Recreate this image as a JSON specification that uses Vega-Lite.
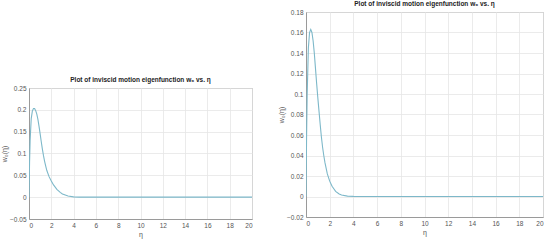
{
  "$schema": "https://vega.github.io/schema/vega-lite/v6.json",
  "background": "white",
  "padding": {"left": 0, "top": 0, "right": 5, "bottom": 2},
  "datasets": {
    "left": [
      {"eta": 0, "w": 0}, {"eta": 0.05, "w": 0.08}, {"eta": 0.1, "w": 0.13}, {"eta": 0.2, "w": 0.18},
      {"eta": 0.3, "w": 0.197}, {"eta": 0.4, "w": 0.203}, {"eta": 0.5, "w": 0.203}, {"eta": 0.6, "w": 0.198},
      {"eta": 0.7, "w": 0.19}, {"eta": 0.8, "w": 0.178}, {"eta": 0.9, "w": 0.162}, {"eta": 1.0, "w": 0.145},
      {"eta": 1.1, "w": 0.127}, {"eta": 1.2, "w": 0.11}, {"eta": 1.3, "w": 0.095}, {"eta": 1.4, "w": 0.082},
      {"eta": 1.5, "w": 0.071}, {"eta": 1.6, "w": 0.061}, {"eta": 1.8, "w": 0.047}, {"eta": 2.0, "w": 0.037},
      {"eta": 2.2, "w": 0.028}, {"eta": 2.5, "w": 0.018}, {"eta": 2.8, "w": 0.011}, {"eta": 3.0, "w": 0.0075},
      {"eta": 3.5, "w": 0.0025}, {"eta": 4.0, "w": 0.0007}, {"eta": 4.5, "w": 0.0002}, {"eta": 5, "w": 0},
      {"eta": 20, "w": 0}
    ],
    "right": [
      {"eta": 0, "w": 0}, {"eta": 0.05, "w": 0.06}, {"eta": 0.1, "w": 0.1}, {"eta": 0.2, "w": 0.145},
      {"eta": 0.3, "w": 0.16}, {"eta": 0.4, "w": 0.163}, {"eta": 0.5, "w": 0.16}, {"eta": 0.6, "w": 0.152},
      {"eta": 0.7, "w": 0.14}, {"eta": 0.8, "w": 0.125}, {"eta": 0.9, "w": 0.11}, {"eta": 1.0, "w": 0.096},
      {"eta": 1.1, "w": 0.083}, {"eta": 1.2, "w": 0.07}, {"eta": 1.3, "w": 0.058}, {"eta": 1.4, "w": 0.048},
      {"eta": 1.5, "w": 0.04}, {"eta": 1.6, "w": 0.033}, {"eta": 1.8, "w": 0.022}, {"eta": 2.0, "w": 0.015},
      {"eta": 2.2, "w": 0.01}, {"eta": 2.5, "w": 0.005}, {"eta": 2.8, "w": 0.0025}, {"eta": 3.0, "w": 0.0015},
      {"eta": 3.5, "w": 0.0004}, {"eta": 4.0, "w": 0.0001}, {"eta": 5, "w": 0}, {"eta": 20, "w": 0}
    ]
  },
  "config": {
    "font": "Liberation Sans",
    "view": {"stroke": "#9a9a9a", "strokeWidth": 1},
    "axis": {
      "labelFont": "Liberation Sans", "labelFontSize": 6.5, "labelColor": "#555555",
      "titleFont": "Liberation Sans", "titleFontSize": 7, "titleColor": "#555555", "titleFontWeight": "normal",
      "domainColor": "#9a9a9a", "ticks": false, "labelPadding": 3,
      "gridColor": "#e6e6e6", "gridWidth": 0.8
    },
    "title": {"font": "Liberation Sans", "fontSize": 6.5, "fontWeight": "bold", "color": "#222222", "offset": 2},
    "line": {"color": "#7db8c9", "strokeWidth": 1.1}
  },
  "spacing": 24,
  "hconcat": [
    {
      "spacing": 0,
      "vconcat": [
        {
          "width": 223, "height": 64,
          "data": {"values": [{}]},
          "mark": {"type": "point", "opacity": 0},
          "view": {"stroke": null}
        },
        {
          "width": 223, "height": 131,
          "title": "Plot of inviscid motion eigenfunction w₀ vs. η",
          "data": {"name": "left"},
          "mark": {"type": "line", "clip": true},
          "encoding": {
            "x": {"field": "eta", "type": "quantitative", "title": "η",
                  "scale": {"domain": [0, 20], "nice": false},
                  "axis": {"values": [0, 2, 4, 6, 8, 10, 12, 14, 16, 18, 20], "titlePadding": 2}},
            "y": {"field": "w", "type": "quantitative", "title": "w₀(η)",
                  "scale": {"domain": [-0.05, 0.25], "nice": false, "zero": false},
                  "axis": {"values": [-0.05, 0, 0.05, 0.1, 0.15, 0.2, 0.25], "format": ".2~f", "titlePadding": 2}}
          }
        }
      ]
    },
    {
      "width": 237, "height": 205,
      "title": "Plot of inviscid motion eigenfunction w₀ vs. η",
      "data": {"name": "right"},
      "mark": {"type": "line", "clip": true},
      "encoding": {
        "x": {"field": "eta", "type": "quantitative", "title": "η",
              "scale": {"domain": [0, 20], "nice": false},
              "axis": {"values": [0, 2, 4, 6, 8, 10, 12, 14, 16, 18, 20], "titlePadding": 2}},
        "y": {"field": "w", "type": "quantitative", "title": "w₀(η)",
              "scale": {"domain": [-0.02, 0.18], "nice": false, "zero": false},
              "axis": {"values": [-0.02, 0, 0.02, 0.04, 0.06, 0.08, 0.1, 0.12, 0.14, 0.16, 0.18], "format": ".2~f", "titlePadding": 2}}
      }
    }
  ]
}
